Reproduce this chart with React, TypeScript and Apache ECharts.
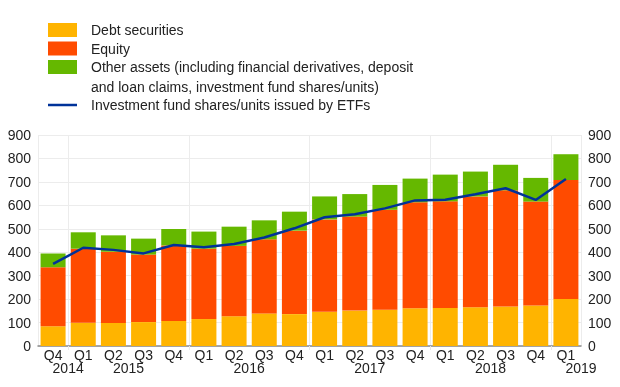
import React, { useEffect, useRef } from "react";
import * as echarts from "echarts";

const quarters = ["Q4", "Q1", "Q2", "Q3", "Q4", "Q1", "Q2", "Q3", "Q4", "Q1", "Q2", "Q3", "Q4", "Q1", "Q2", "Q3", "Q4", "Q1"];
// year labels on a half-step axis (37 points: category boundaries and centres)
const yearSlots: string[] = Array.from({ length: 37 }, () => "");
const yearLabels: [number, string][] = [[2, "2014"], [6, "2015"], [14, "2016"], [22, "2017"], [30, "2018"], [36, "2019"]];
yearLabels.forEach(([i, y]) => (yearSlots[i] = y));
const yearSeparators = [0, 2, 10, 18, 26, 34, 36];

const debt = [84, 99, 98, 102, 107, 115, 127, 139, 136, 146, 151, 155, 161, 162, 165, 168, 173, 200];
const equity = [252, 316, 304, 288, 322, 300, 300, 316, 356, 394, 401, 426, 452, 455, 473, 496, 443, 508];
const other = [59, 70, 70, 68, 70, 73, 82, 81, 81, 98, 96, 106, 101, 114, 106, 109, 101, 110];
const etf = [350, 419, 410, 395, 431, 421, 435, 463, 502, 549, 562, 587, 621, 624, 647, 673, 623, 712];

const FONT = "Liberation Sans, Arial, Helvetica, sans-serif";
const TXT = "#222";

export default function App() {
  const ref = useRef<HTMLDivElement>(null);
  useEffect(() => {
    if (!ref.current) return;
    const chart = echarts.init(ref.current, null, { renderer: "svg" });
    const legendBase = {
      orient: "vertical",
      left: 48,
      padding: 0,
      itemWidth: 29,
      itemHeight: 14,
      icon: "rect",
      selectedMode: false,
      textStyle: { fontSize: 14, lineHeight: 14, color: TXT, fontFamily: FONT, padding: [0, 0, 0, 9] },
    };
    chart.setOption({
      animation: false,
      textStyle: { fontFamily: FONT },
      legend: [
        { ...legendBase, top: 23, data: ["Debt securities"] },
        { ...legendBase, top: 41.5, data: ["Equity"] },
        {
          ...legendBase,
          top: 60,
          data: ["Other assets (including financial derivatives, deposit and loan claims, investment fund shares/units)"],
          formatter: () => "Other assets (including financial derivatives, deposit",
        },
        { ...legendBase, top: 98, itemHeight: 2.5, data: ["Investment fund shares/units issued by ETFs"] },
      ],
      graphic: [
        {
          type: "text",
          left: 91,
          top: 79.5,
          style: {
            text: "and loan claims, investment fund shares/units)",
            fontSize: 14,
            fontFamily: FONT,
            fill: TXT,
          },
        },
      ],
      grid: { left: 38, right: 39, top: 135, bottom: 41 },
      xAxis: [
        {
          type: "category",
          data: quarters,
          boundaryGap: true,
          axisLine: { lineStyle: { color: "#8a8a8a", width: 1.5 } },
          axisTick: { show: false },
          axisLabel: { fontSize: 14, lineHeight: 12, color: TXT, margin: 3, interval: 0, fontFamily: FONT },
          splitLine: { show: false },
        },
        {
          type: "category",
          data: yearSlots,
          boundaryGap: false,
          position: "bottom",
          axisLine: { show: false },
          axisTick: {
            show: true,
            length: 4,
            interval: (i: number) => yearSeparators.indexOf(i) >= 0 && i !== 0 && i !== 36,
            lineStyle: { color: "#e8e8e8" },
          },
          axisLabel: {
            fontSize: 14,
            lineHeight: 12,
            color: TXT,
            margin: 16,
            interval: 0,
            showMaxLabel: true,
            showMinLabel: true,
            fontFamily: FONT,
          },
          splitLine: {
            show: true,
            interval: (i: number) => yearSeparators.indexOf(i) >= 0,
            lineStyle: { color: "#ececec", width: 1 },
          },
        },
      ],
      yAxis: [
        {
          type: "value",
          min: 0,
          max: 900,
          interval: 100,
          axisLine: { show: false },
          axisTick: { show: false },
          axisLabel: { fontSize: 14, color: TXT, margin: 7, fontFamily: FONT },
          splitLine: { show: true, lineStyle: { color: "#ececec", width: 1 } },
        },
        {
          type: "value",
          min: 0,
          max: 900,
          interval: 100,
          position: "right",
          axisLine: { show: false },
          axisTick: { show: false },
          axisLabel: { fontSize: 14, color: TXT, margin: 7, fontFamily: FONT },
          splitLine: { show: false },
        },
      ],
      series: [
        {
          name: "Debt securities",
          type: "bar",
          stack: "a",
          barWidth: 25,
          data: debt,
          itemStyle: { color: "#FFB400" },
        },
        {
          name: "Equity",
          type: "bar",
          stack: "a",
          barWidth: 25,
          data: equity,
          itemStyle: { color: "#FF4B00" },
        },
        {
          name: "Other assets (including financial derivatives, deposit and loan claims, investment fund shares/units)",
          type: "bar",
          stack: "a",
          barWidth: 25,
          data: other,
          itemStyle: { color: "#65B800" },
        },
        {
          name: "Investment fund shares/units issued by ETFs",
          type: "line",
          data: etf,
          symbol: "none",
          z: 5,
          itemStyle: { color: "#003299" },
          lineStyle: { color: "#003299", width: 2.5 },
        },
      ],
    });
    return () => chart.dispose();
  }, []);
  return <div ref={ref} style={{ position: "fixed", left: 0, top: 0, width: 620, height: 387 }} />;
}
